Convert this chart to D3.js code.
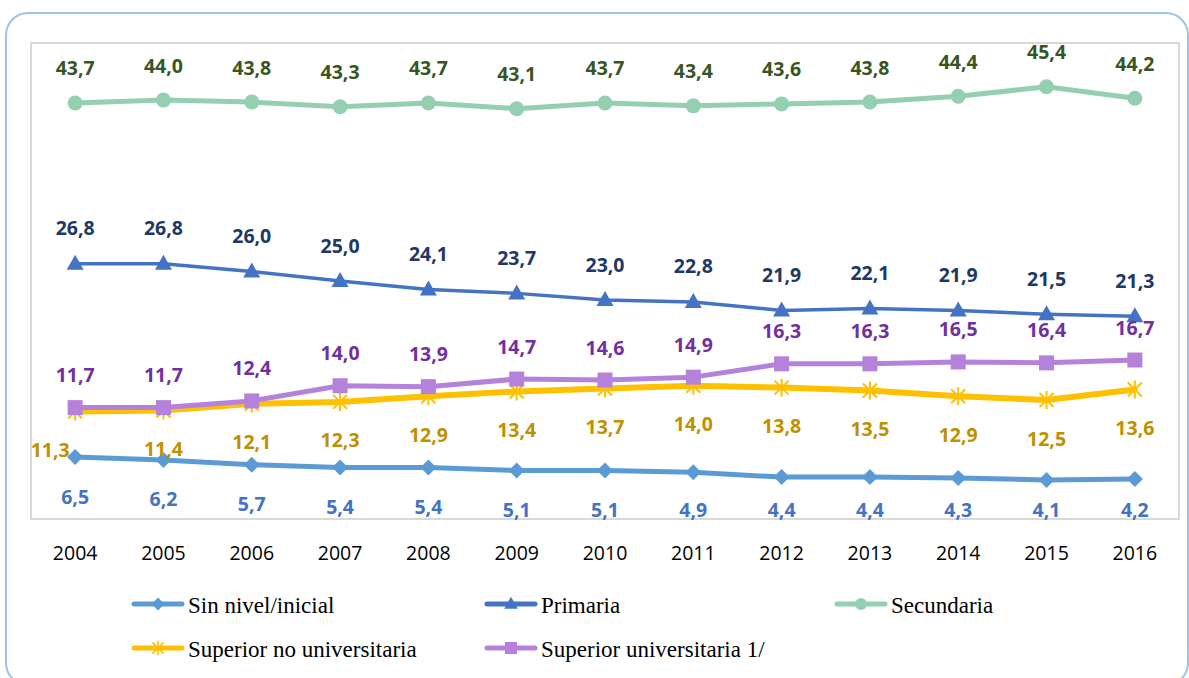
<!DOCTYPE html>
<html>
  <head>
    <meta charset="utf-8">
    <title>nivel educativo</title>
    <style>
      body { margin: 0; background: #fff; }
    </style>
  </head>
  <body>
    <div id="container"></div>
    <script src="https://cdn.jsdelivr.net/npm/d3@7"></script>
    <script>
      var years = [2004, 2005, 2006, 2007, 2008, 2009, 2010, 2011, 2012, 2013, 2014, 2015, 2016];
      var seriesNames = ["Sin nivel/inicial", "Primaria", "Secundaria", "Superior no universitaria", "Superior universitaria 1/"];
      var sinNivel = [6.5, 6.2, 5.7, 5.4, 5.4, 5.1, 5.1, 4.9, 4.4, 4.4, 4.3, 4.1, 4.2];
      var primaria = [26.8, 26.8, 26.0, 25.0, 24.1, 23.7, 23.0, 22.8, 21.9, 22.1, 21.9, 21.5, 21.3];
      var secundaria = [43.7, 44.0, 43.8, 43.3, 43.7, 43.1, 43.7, 43.4, 43.6, 43.8, 44.4, 45.4, 44.2];
      var supNoUniv = [11.3, 11.4, 12.1, 12.3, 12.9, 13.4, 13.7, 14.0, 13.8, 13.5, 12.9, 12.5, 13.6];
      var supUniv = [11.7, 11.7, 12.4, 14.0, 13.9, 14.7, 14.6, 14.9, 16.3, 16.3, 16.5, 16.4, 16.7];

      var W = 1189, H = 678;
      var plot = {left: 31, right: 1179, top: 43, bottom: 519};

      var svg = d3.select("#container").append("svg")
        .attr("width", W)
        .attr("height", H)
        .style("display", "block");

      // outer frame
      svg.append("rect")
        .attr("x", 6).attr("y", 13)
        .attr("width", 1182).attr("height", 672)
        .attr("rx", 22)
        .attr("fill", "#fff")
        .attr("stroke", "#9dc3e6")
        .attr("stroke-width", 2);

      // plot area
      svg.append("rect")
        .attr("x", plot.left).attr("y", plot.top)
        .attr("width", plot.right - plot.left).attr("height", plot.bottom - plot.top)
        .attr("fill", "none")
        .attr("stroke", "#d9d9d9")
        .attr("stroke-width", 2);

      var x = d3.scalePoint().domain(years).range([plot.left, plot.right]).padding(0.5);
      var y = d3.scaleLinear().domain([0, 50]).range([plot.bottom, plot.top]);

      // label nudges (dx) for the few labels excel moved by hand
      var series = [
        {name: seriesNames[0], values: sinNivel, color: "#5b9bd5", width: 5, marker: "diamond", labelColor: "#4472c4", dy: 39, nudge: {}},
        {name: seriesNames[1], values: primaria, color: "#4472c4", width: 3.5, marker: "triangle", labelColor: "#203864", dy: -36, nudge: {}},
        {name: seriesNames[2], values: secundaria, color: "#94cfb1", width: 5, marker: "circle", labelColor: "#375623", dy: -35, nudge: {}},
        {name: seriesNames[3], values: supNoUniv, color: "#ffc000", width: 6, marker: "star", labelColor: "#bf9000", dy: 38, nudge: {0: -25}},
        {name: seriesNames[4], values: supUniv, color: "#b482db", width: 5, marker: "square", labelColor: "#7030a0", dy: -33, nudge: {}}
      ];

      function drawMarker(g, type, color) {
        if (type == "diamond") {
          g.append("path").attr("d", "M0,-8L8,0L0,8L-8,0Z").attr("fill", color);
        } else if (type == "triangle") {
          g.append("path").attr("d", "M0,-9L8.5,6L-8.5,6Z").attr("fill", color);
        } else if (type == "circle") {
          g.append("circle").attr("r", 7.5).attr("fill", color);
        } else if (type == "square") {
          g.append("rect").attr("x", -7.5).attr("y", -7.5).attr("width", 15).attr("height", 15).attr("fill", color);
        } else if (type == "star") {
          g.append("path")
            .attr("d", "M-7,-7L7,7M-7,7L7,-7M0,-9L0,9")
            .attr("stroke", color).attr("stroke-width", 2).attr("fill", "none");
        }
      }

      var line = d3.line()
        .x(function(d, i) { return x(years[i]); })
        .y(function(d) { return y(d); });

      series.forEach(function(s) {
        var g = svg.append("g");
        g.append("path")
          .datum(s.values)
          .attr("d", line)
          .attr("fill", "none")
          .attr("stroke", s.color)
          .attr("stroke-width", s.width)
          .attr("stroke-linejoin", "round")
          .attr("stroke-linecap", "round");
        s.values.forEach(function(v, i) {
          var m = g.append("g").attr("transform", "translate(" + x(years[i]) + "," + y(v) + ")");
          drawMarker(m, s.marker, s.color);
        });
      });

      // data labels
      series.forEach(function(s) {
        svg.append("g").selectAll("text")
          .data(s.values)
          .enter().append("text")
          .attr("x", function(d, i) { return x(years[i]) + (s.nudge[i] || 0); })
          .attr("y", function(d) { return Math.min(y(d) + s.dy, 509); })
          .attr("text-anchor", "middle")
          .attr("dominant-baseline", "central")
          .attr("font-family", "'Open Sans', sans-serif")
          .attr("font-weight", 700)
          .attr("font-size", 19.5)
          .attr("fill", s.labelColor)
          .text(function(d) { return d.toFixed(1).replace(".", ","); });
      });

      // x axis labels
      svg.append("g").selectAll("text")
        .data(years)
        .enter().append("text")
        .attr("x", function(d) { return x(d); })
        .attr("y", 552)
        .attr("text-anchor", "middle")
        .attr("dominant-baseline", "central")
        .attr("font-family", "'Open Sans', sans-serif")
        .attr("font-size", 19.5)
        .attr("fill", "#000")
        .text(function(d) { return d; });

      // legend
      var legendPos = [[132, 604], [485, 604], [835, 604], [132, 648], [485, 648]];
      series.forEach(function(s, i) {
        var lg = svg.append("g").attr("transform", "translate(" + legendPos[i][0] + "," + legendPos[i][1] + ")");
        lg.append("line")
          .attr("x1", 2).attr("x2", 50).attr("y1", 0).attr("y2", 0)
          .attr("stroke", s.color).attr("stroke-width", 5).attr("stroke-linecap", "round");
        var m = lg.append("g").attr("transform", "translate(26,0) scale(0.8)");
        drawMarker(m, s.marker, s.color);
        lg.append("text")
          .attr("x", 56).attr("y", 1)
          .attr("dominant-baseline", "central")
          .attr("font-family", "'Liberation Serif', 'Times New Roman', serif")
          .attr("font-size", 23)
          .attr("fill", "#000")
          .text(s.name);
      });
    </script>
  </body>
</html>
